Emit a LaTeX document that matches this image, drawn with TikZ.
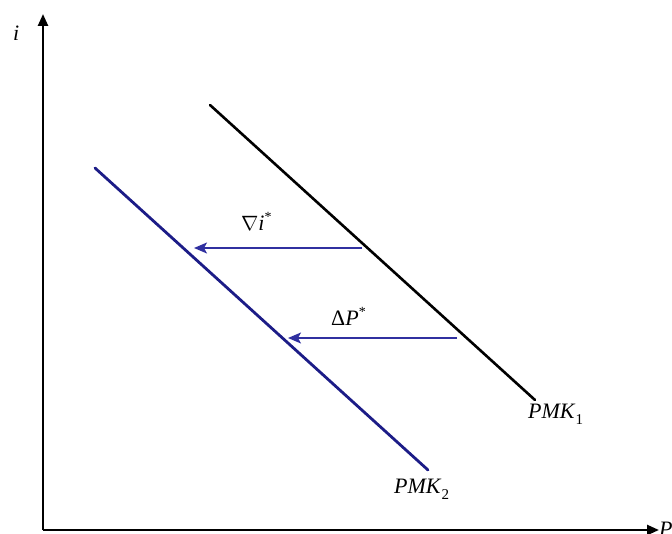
\documentclass[tikz,border=0pt]{standalone}
\usepackage{fontspec}
\setmainfont{Liberation Serif}
\usetikzlibrary{arrows.meta}
\definecolor{navyline}{RGB}{28,28,135}
\definecolor{navyarrow}{RGB}{48,48,160}
\tikzset{
  axis/.style={line width=2.4pt, -{Triangle[length=12pt,width=10pt]}},
  curveblack/.style={line width=2.6pt, black, line cap=round},
  curveblue/.style={line width=2.8pt, navyline, line cap=round},
  shiftarrow/.style={line width=1.4pt, navyarrow, -{Stealth[length=13pt,width=11pt,inset=3pt]}},
  lbl/.style={inner sep=0pt, anchor=base west, font=\fontsize{22}{24}\selectfont},
}
\newcommand{\subnum}[1]{\raisebox{-0.3em}{\fontsize{15}{15}\selectfont #1}}
\begin{document}
\begin{tikzpicture}[x=1pt,y=-1pt]
\useasboundingbox (0,0) rectangle (672,534);
% axes
\coordinate (O) at (43,530);
\coordinate (ytop) at (43,14);
\coordinate (xend) at (659,530);
\draw[axis] (O) -- (ytop);
\draw[axis] (O) -- (xend);
\node[lbl] (ilab) at (13,41) {\textit{i}};
\node[lbl] (plab) at (659,536) {\textit{P}};
% curves
\coordinate (b1) at (210,105);
\coordinate (b2) at (535,400);
\coordinate (u1) at (95,168);
\coordinate (u2) at (428,470);
\draw[curveblack] (b1) -- (b2);
\draw[curveblue] (u1) -- (u2);
% shift arrows
\coordinate (a1s) at (362,248);
\coordinate (a1e) at (194,248);
\coordinate (a2s) at (457,338);
\coordinate (a2e) at (288,338);
\draw[shiftarrow] (a1s) -- (a1e);
\draw[shiftarrow] (a2s) -- (a2e);
\node[lbl] (nab) at (241,231) {$\nabla$\textit{i}\raisebox{0.45em}{\fontsize{14}{14}\selectfont *}};
\node[lbl] (del) at (331,326) {Δ\textit{P}\raisebox{0.45em}{\fontsize{14}{14}\selectfont *}};
% curve labels
\node[lbl] (pmk1) at (528,418) {\textit{PMK}\subnum{1}};
\node[lbl] (pmk2) at (394,493) {\textit{PMK}\subnum{2}};
\end{tikzpicture}
\end{document}
